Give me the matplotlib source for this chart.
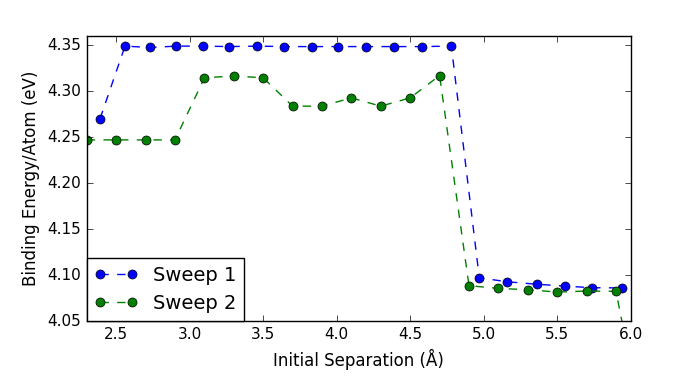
import matplotlib
matplotlib.use("Agg")
import matplotlib.pyplot as plt

plt.style.use("classic")

x1 = [2.39, 2.56, 2.73, 2.91, 3.09, 3.27, 3.46, 3.64, 3.83, 4.01, 4.20, 4.39,
      4.58, 4.78, 4.97, 5.16, 5.36, 5.55, 5.74, 5.94]
y1 = [4.270, 4.349, 4.3475, 4.349, 4.349, 4.3485, 4.349, 4.3485, 4.3485, 4.3485,
      4.3485, 4.3485, 4.3485, 4.349, 4.097, 4.0927, 4.090, 4.088, 4.0862, 4.086]

x2 = [2.30, 2.50, 2.70, 2.90, 3.10, 3.30, 3.50, 3.70, 3.90, 4.10, 4.30, 4.50,
      4.70, 4.90, 5.10, 5.30, 5.50, 5.70, 5.90, 6.10]
y2 = [4.247, 4.247, 4.247, 4.247, 4.3145, 4.3166, 4.3145, 4.2837, 4.2837, 4.2927,
      4.2837, 4.2927, 4.317, 4.0884, 4.0855, 4.084, 4.0815, 4.0826, 4.0823, 3.92]

labels = ["Sweep 1", "Sweep 2"]

fig = plt.figure(figsize=(7, 3.79), dpi=100, facecolor="white")
ax = fig.add_axes([0.124, 0.153, 0.777, 0.752])

ax.plot(x1, y1, "o--", color="b", markersize=6.5, markeredgewidth=0.5,
        markeredgecolor="k", label=labels[0])
ax.plot(x2, y2, "o--", color="g", markersize=6.5, markeredgewidth=0.5,
        markeredgecolor="k", label=labels[1])

ax.set_xlim(2.3, 6.0)
ax.set_ylim(4.05, 4.36)
ax.set_xticks([2.5, 3.0, 3.5, 4.0, 4.5, 5.0, 5.5, 6.0])
ax.set_yticks([4.05, 4.10, 4.15, 4.20, 4.25, 4.30, 4.35])
ax.set_yticklabels(["%.2f" % v for v in [4.05, 4.10, 4.15, 4.20, 4.25, 4.30, 4.35]])
ax.tick_params(labelsize=11)
ax.set_xlabel("Initial Separation (Å)", fontsize=12)
ax.set_ylabel("Binding Energy/Atom (eV)", fontsize=12)

leg = ax.legend(loc="lower left", borderaxespad=0, numpoints=2,
                fontsize=14, fancybox=False, handlelength=2.2)
leg.get_frame().set_linewidth(1.0)

fig.savefig("out.png", dpi=100, facecolor="white")
